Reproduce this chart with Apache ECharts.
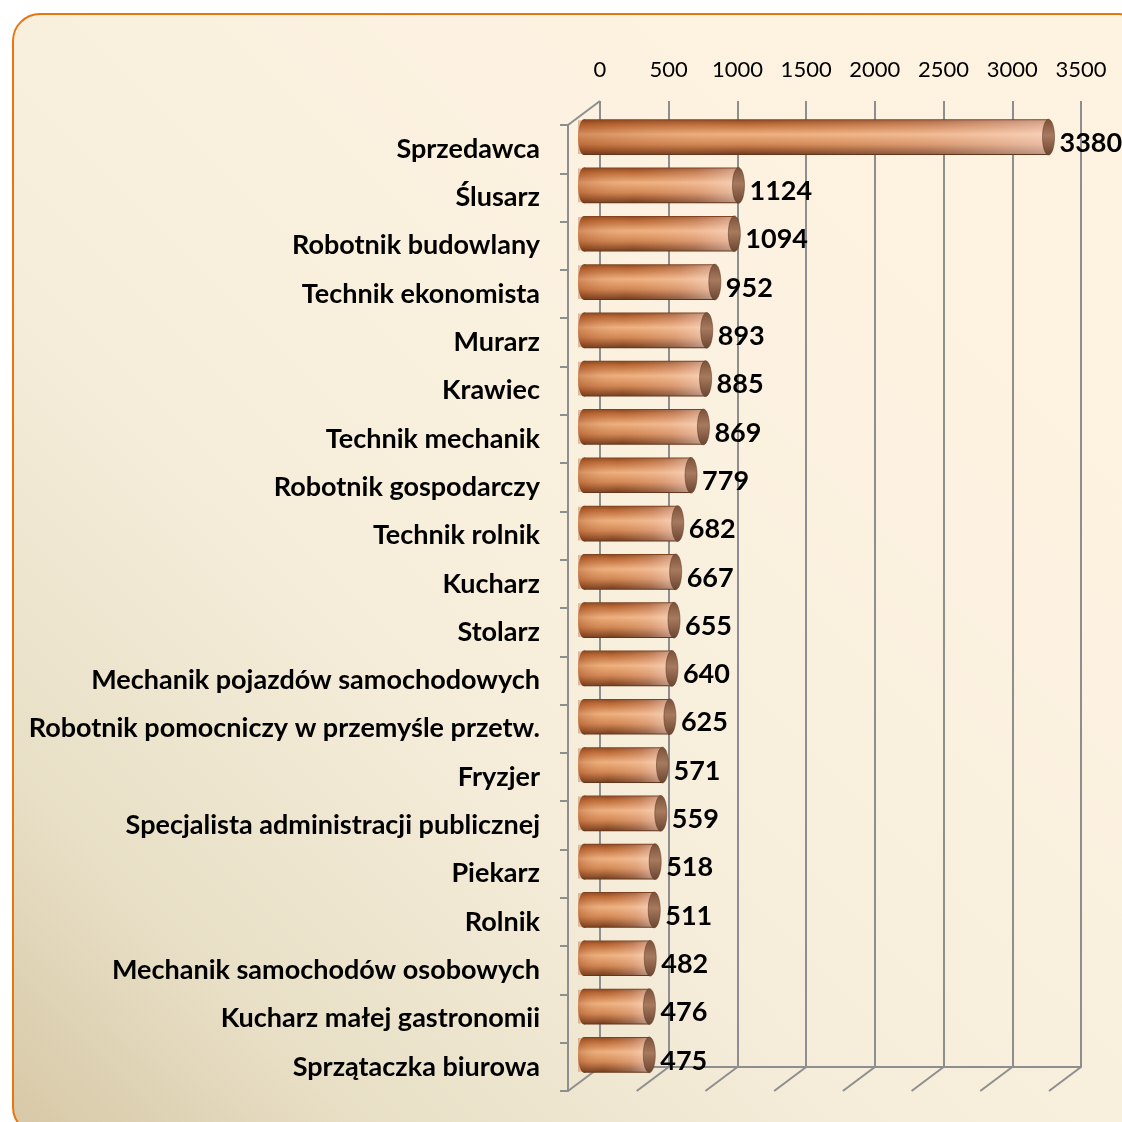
<!DOCTYPE html>
<html>
<head>
<meta charset="utf-8">
<script src="https://cdn.jsdelivr.net/npm/echarts@6/dist/echarts.min.js"></script>
<style>
html, body { margin: 0; padding: 0; background: #fff; }
#frame {
    position: absolute; left: 12px; top: 13px; width: 1135px; height: 1122px;
    box-sizing: border-box; border: 2px solid #E8760F; border-radius: 28px;
    background: linear-gradient(to top right, #D7C8A6 0%, #E8DFC6 16%, #F5EDDA 38%, #FDF2E1 70%, #FEF2E0 100%);
}
#main { position: absolute; left: 0; top: 0; width: 1122px; height: 1122px; }
</style>
</head>
<body>
<div id="frame"></div>
<div id="main"></div>
<script>
var categories = ['Sprzedawca', 'Ślusarz', 'Robotnik budowlany', 'Technik ekonomista', 'Murarz',
    'Krawiec', 'Technik mechanik', 'Robotnik gospodarczy', 'Technik rolnik', 'Kucharz',
    'Stolarz', 'Mechanik pojazdów samochodowych', 'Robotnik pomocniczy w przemyśle przetw.',
    'Fryzjer', 'Specjalista administracji publicznej', 'Piekarz', 'Rolnik',
    'Mechanik samochodów osobowych', 'Kucharz małej gastronomii', 'Sprzątaczka biurowa'];
var values = [3380, 1124, 1094, 952, 893, 885, 869, 779, 682, 667, 655, 640, 625, 571, 559, 518, 511, 482, 476, 475];
var ticks = [0, 500, 1000, 1500, 2000, 2500, 3000, 3500];

var gridColor = '#8E8E8E';
var depthX = -32, depthY = 24;

var chart = echarts.init(document.getElementById('main'));

function barBody() {
    return new echarts.graphic.LinearGradient(0, 0, 0, 1, [
        {offset: 0, color: '#7A3E1C'},
        {offset: 0.12, color: '#B5612E'},
        {offset: 0.42, color: '#EDAF7E'},
        {offset: 0.7, color: '#CF8350'},
        {offset: 0.9, color: '#8A4A25'},
        {offset: 1, color: '#5E3218'}
    ]);
}

var option = {
    animation: false,
    grid: [
        {left: 600, top: 101, width: 481, height: 966},
        {left: 584, top: 113, width: 481, height: 966},
        {left: 568, top: 125, width: 481, height: 966}
    ],
    xAxis: [{
        gridIndex: 0, type: 'value', position: 'top', min: 0, max: 3500, interval: 500,
        axisLine: {show: true, lineStyle: {color: gridColor, width: 2}},
        axisTick: {show: true, length: 8, lineStyle: {color: gridColor, width: 2}},
        splitLine: {show: true, lineStyle: {color: gridColor, width: 2}},
        axisLabel: {
            fontSize: 22, color: '#000', margin: 20, fontFamily: 'Lato',
            formatter: function (v) { return String(v); }
        }
    }, {
        gridIndex: 1, type: 'value', min: 0, max: 3500, show: false
    }, {
        gridIndex: 2, type: 'value', min: 0, max: 3500, show: false
    }],
    yAxis: [{
        gridIndex: 0, type: 'value', min: 0, max: 1, show: false
    }, {
        gridIndex: 1, type: 'category', inverse: true, data: categories, show: false
    }, {
        gridIndex: 2, type: 'category', inverse: true, data: categories,
        axisLine: {show: true, lineStyle: {color: gridColor, width: 2}},
        axisTick: {show: true, length: 8, lineStyle: {color: gridColor, width: 2}},
        splitLine: {show: false},
        axisLabel: {fontSize: 27, fontWeight: 'bold', color: '#000', margin: 28, fontFamily: 'Lato'}
    }],
    series: [{
        // floor lines and the top left edge of the box
        type: 'custom',
        xAxisIndex: 0, yAxisIndex: 0,
        z: 1,
        data: ticks.map(function (t) { return [t, 0]; }),
        renderItem: function (params, api) {
            var b = api.coord([api.value(0), 0]);
            var kids = [{
                type: 'line',
                shape: {x1: b[0], y1: b[1], x2: b[0] + depthX, y2: b[1] + depthY},
                style: {stroke: gridColor, lineWidth: 2}
            }];
            if (api.value(0) === 0) {
                var t = api.coord([0, 1]);
                kids.push({
                    type: 'line',
                    shape: {x1: t[0], y1: t[1], x2: t[0] + depthX, y2: t[1] + depthY},
                    style: {stroke: gridColor, lineWidth: 2}
                });
            }
            return {type: 'group', children: kids};
        }
    }, {
        // cylinders
        type: 'custom',
        xAxisIndex: 1, yAxisIndex: 1,
        z: 5,
        data: values.map(function (v, i) { return [v, categories[i]]; }),
        encode: {x: 0, y: 1},
        renderItem: function (params, api) {
            var v = api.value(0);
            var idx = api.value(1);
            var p0 = api.coord([0, idx]);
            var p1 = api.coord([v, idx]);
            var h = api.size([0, 1])[1] * 0.74;
            var cy = p0[1];
            var top = cy - h / 2;
            var rx = 6;
            return {
                type: 'group',
                children: [{
                    type: 'ellipse',
                    shape: {cx: p0[0], cy: cy, rx: rx, ry: h / 2},
                    style: {fill: barBody()}
                }, {
                    type: 'rect',
                    shape: {x: p0[0], y: top, width: p1[0] - p0[0], height: h},
                    style: {fill: barBody()}
                }, {
                    type: 'rect',
                    shape: {x: p0[0] - rx, y: top + 1, width: p1[0] - p0[0] + rx, height: h - 2},
                    style: {
                        fill: new echarts.graphic.LinearGradient(0, 0, 1, 0, [
                            {offset: 0, color: 'rgba(150,60,15,0.30)'},
                            {offset: 0.35, color: 'rgba(255,200,150,0.05)'},
                            {offset: 0.75, color: 'rgba(255,225,215,0.25)'},
                            {offset: 1, color: 'rgba(255,235,230,0.55)'}
                        ])
                    }
                }, {
                    type: 'ellipse',
                    shape: {cx: p1[0], cy: cy, rx: rx, ry: h / 2},
                    style: {
                        fill: new echarts.graphic.LinearGradient(0, 0, 0, 1, [
                            {offset: 0, color: '#7A5038'},
                            {offset: 0.45, color: '#A77A5E'},
                            {offset: 1, color: '#6A4430'}
                        ]),
                        stroke: 'rgba(90,50,30,0.5)', lineWidth: 1
                    }
                }, {
                    type: 'text',
                    x: p1[0] + rx + 5,
                    y: cy + 6,
                    style: {
                        text: String(v), fontSize: 27, fontWeight: 'bold', fontFamily: 'Lato',
                        fill: '#000', align: 'left', verticalAlign: 'middle'
                    }
                }]
            };
        }
    }]
};

chart.setOption(option);
</script>
</body>
</html>
